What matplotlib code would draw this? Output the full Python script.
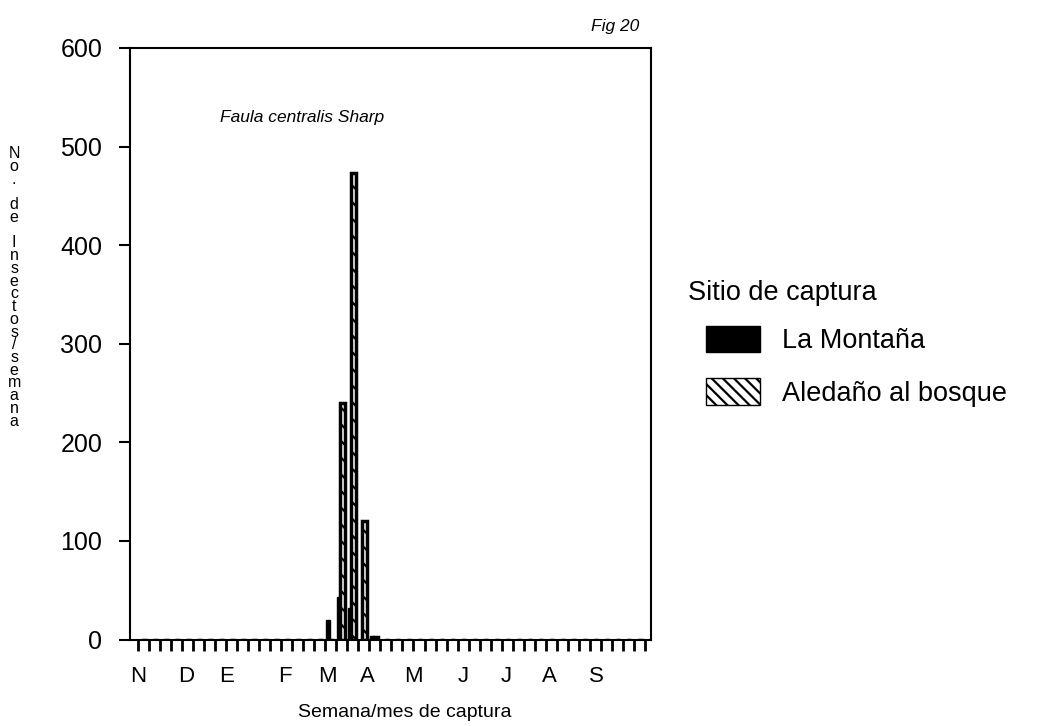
import numpy as np
import matplotlib
matplotlib.use("Agg")
import matplotlib.pyplot as plt
from matplotlib.patches import Patch

plt.rcParams['font.family'] = ['Liberation Sans', 'DejaVu Sans']
plt.rcParams['hatch.linewidth'] = 1.6

# Weekly catches, November through September (one slot per week)
n_weeks = 47
weeks = np.arange(n_weeks)
la_montana = np.zeros(n_weeks)
aledano = np.zeros(n_weeks)
la_montana[[17, 18, 19, 21]] = [20, 43, 32, 4]
aledano[[18, 19, 20, 21]] = [240, 473, 120, 3]

months = ['N', 'D', 'E', 'F', 'M', 'A', 'M', 'J', 'J', 'A', 'S']
month_pos = [0, 4.4, 8.0, 13.3, 17.2, 20.8, 25.0, 29.5, 33.4, 37.3, 41.6]
y_ticks = [0, 100, 200, 300, 400, 500, 600]

fig = plt.figure(figsize=(10.49, 7.26), dpi=100)
ax = fig.add_axes([0.124, 0.119, 0.497, 0.815])

ax.bar(weeks + 0.2, la_montana, width=0.35, color='black', edgecolor='black')
ax.bar(weeks + 0.58, aledano, width=0.42, color='white', edgecolor='black',
       hatch='\\\\', linewidth=2.5)

ax.set_xlim(-0.73, 46.6)
ax.set_ylim(0, 600)

# weekly ticks plus month initials (month initials may sit on a week tick)
ax.xaxis.remove_overlapping_locs = False
ax.set_xticks(weeks)
ax.set_xticklabels([])
ax.tick_params(axis='x', which='major', direction='out', length=8, width=2)
ax.set_xticks(month_pos, minor=True)
ax.set_xticklabels(months, minor=True, fontsize=16)
ax.tick_params(axis='x', which='minor', length=0, pad=19)

ax.set_yticks(y_ticks)
ax.set_yticklabels([str(v) for v in y_ticks], fontsize=18)
ax.tick_params(axis='y', direction='out', length=8, width=1.5, pad=12)

for s in ax.spines.values():
    s.set_linewidth(1.5)

ax.text(0.33, 0.883, 'Faula centralis Sharp', transform=ax.transAxes,
        ha='center', va='center', fontsize=12.5, style='italic')
fig.text(0.586, 0.963, 'Fig 20', ha='center', va='center', fontsize=12.5, style='italic')

# stacked vertical y label
ylab = 'No. de Insectos/semana'
fig.text(0.0135, 0.604, '\n'.join(ylab), ha='center', va='center',
         fontsize=11.5, linespacing=0.81)

fig.text(0.386, 0.019, 'Semana/mes de captura', ha='center', va='center', fontsize=14)

fig.text(0.656, 0.596, 'Sitio de captura', ha='left', va='center', fontsize=19.5)
handles = [Patch(facecolor='black', edgecolor='black', label='La Montaña'),
           Patch(facecolor='white', edgecolor='black', hatch='\\\\\\', label='Aledaño al bosque')]
leg = fig.legend(handles=handles, loc='upper left',
                 bbox_to_anchor=(0.673, 0.551), frameon=False, fontsize=19.5,
                 handlelength=2.0, handleheight=1.12, handletextpad=0.81,
                 labelspacing=0.88, borderaxespad=0, borderpad=0)

fig.savefig('out.png', dpi=100)
